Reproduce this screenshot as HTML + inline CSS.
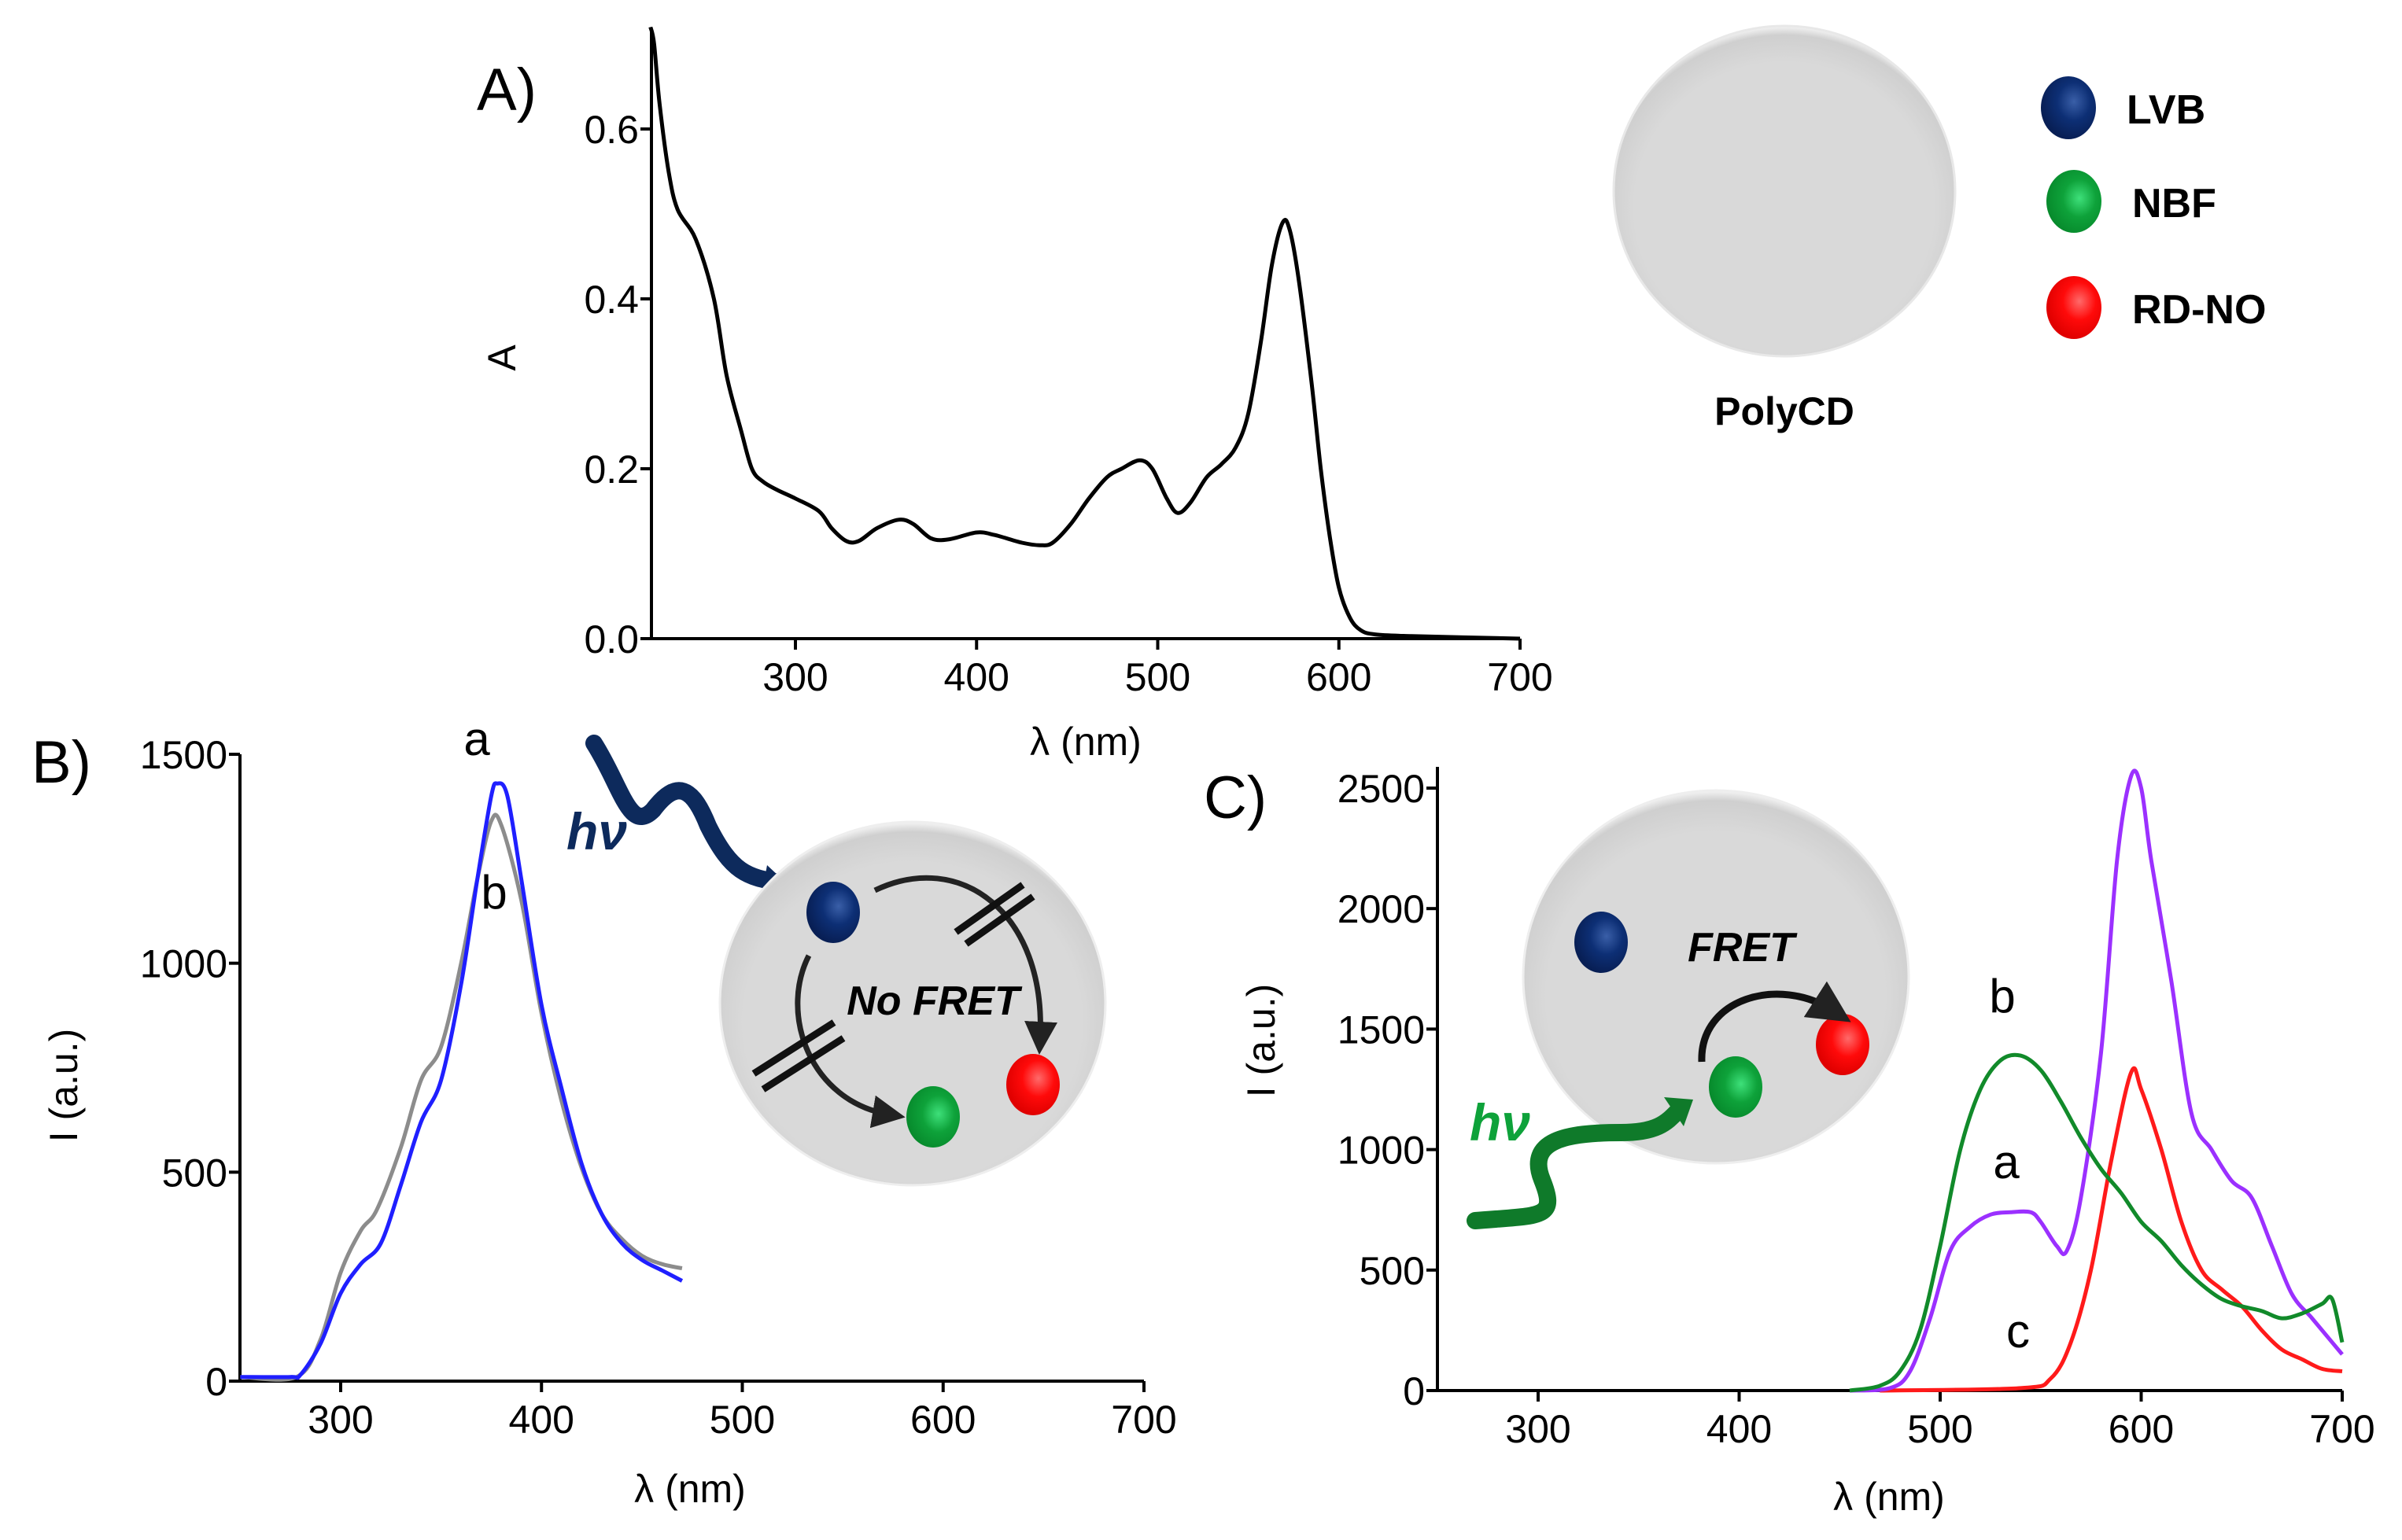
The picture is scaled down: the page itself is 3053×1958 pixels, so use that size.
<!DOCTYPE html>
<html><head><meta charset="utf-8"><style>
html,body{margin:0;padding:0;background:#fff}
svg{display:block}
text{font-family:"Liberation Sans",sans-serif}
</style></head><body>
<svg id="fig" width="3053" height="1958" viewBox="0 0 3053 1958" xmlns="http://www.w3.org/2000/svg">
<defs>
<radialGradient id="gcirc" cx="50%" cy="55%" r="55%"><stop offset="0.8" stop-color="#d9d9d9"/><stop offset="0.95" stop-color="#cfcfcf"/><stop offset="1" stop-color="#f4f4f4"/></radialGradient>
<radialGradient id="gblue" cx="60%" cy="40%" r="60%"><stop offset="0" stop-color="#3a5fa8"/><stop offset="0.5" stop-color="#0d2f75"/><stop offset="1" stop-color="#081f55"/></radialGradient>
<radialGradient id="ggreen" cx="60%" cy="45%" r="60%"><stop offset="0" stop-color="#3ee07a"/><stop offset="0.5" stop-color="#0ea23a"/><stop offset="1" stop-color="#078a2c"/></radialGradient>
<radialGradient id="gred" cx="60%" cy="40%" r="60%"><stop offset="0" stop-color="#ff6a6a"/><stop offset="0.5" stop-color="#ff0a0a"/><stop offset="1" stop-color="#e00000"/></radialGradient>
<marker id="ah" markerWidth="6" markerHeight="6" refX="3" refY="3" orient="auto"><path d="M0,0 L6,3 L0,6 z" fill="#222"/></marker>
</defs>
<g id="layer"></g>

<text x="606" y="140" font-size="76">A)</text>
<ellipse cx="2268" cy="243" rx="217" ry="210" fill="url(#gcirc)" stroke="#e8e8e8" stroke-width="3"/>
<text x="2268" y="540" font-size="50" font-weight="bold" text-anchor="middle">PolyCD</text>
<ellipse cx="2629" cy="137" rx="35" ry="40" fill="url(#gblue)"/>
<text x="2703" y="157" font-size="52" font-weight="bold">LVB</text>
<ellipse cx="2636" cy="256" rx="35" ry="40" fill="url(#ggreen)"/>
<text x="2710" y="276" font-size="52" font-weight="bold">NBF</text>
<ellipse cx="2636" cy="391" rx="35" ry="40" fill="url(#gred)"/>
<text x="2710" y="411" font-size="52" font-weight="bold">RD-NO</text>

<text x="40" y="995" font-size="76">B)</text>
<text x="606" y="960" font-size="60" text-anchor="middle">a</text>
<text x="628" y="1155" font-size="60" text-anchor="middle">b</text>
<path d="M755,945 C790,1000 800,1060 830,1030 C860,990 880,1000 900,1050 C930,1110 950,1115 990,1122" fill="none" stroke="#0d2a5c" stroke-width="22" stroke-linecap="round"/>
<path d="M975,1100 L1005,1128 L968,1138 z" fill="#0d2a5c"/>
<text x="720" y="1080" font-size="66" font-weight="bold" font-style="italic" font-family="Liberation Serif" fill="#0d2a5c">hν</text>
<ellipse cx="1160" cy="1276" rx="245" ry="231" fill="url(#gcirc)" stroke="#eee" stroke-width="3"/>
<ellipse cx="1059" cy="1160" rx="34" ry="39" fill="url(#gblue)"/>
<ellipse cx="1313" cy="1379" rx="34" ry="39" fill="url(#gred)"/>
<ellipse cx="1186" cy="1420" rx="34" ry="39" fill="url(#ggreen)"/>
<path d="M1112,1132 C1220,1080 1330,1160 1322,1320" fill="none" stroke="#222" stroke-width="7" marker-end="url(#ah)"/>
<path d="M1028,1215 C990,1290 1030,1400 1130,1417" fill="none" stroke="#222" stroke-width="7" marker-end="url(#ah)"/>
<path d="M1215,1185 L1300,1125 M1228,1200 L1313,1140" stroke="#111" stroke-width="9"/>
<path d="M958,1365 L1060,1300 M970,1385 L1072,1320" stroke="#111" stroke-width="9"/>
<text x="1186" y="1290" font-size="52" font-weight="bold" font-style="italic" text-anchor="middle">No FRET</text>

<text x="1530" y="1040" font-size="76">C)</text>
<ellipse cx="2181" cy="1242" rx="245" ry="237" fill="url(#gcirc)" stroke="#eee" stroke-width="3"/>
<ellipse cx="2035" cy="1198" rx="34" ry="39" fill="url(#gblue)"/>
<ellipse cx="2206" cy="1382" rx="34" ry="39" fill="url(#ggreen)"/>
<ellipse cx="2342" cy="1328" rx="34" ry="39" fill="url(#gred)"/>
<path d="M2163,1350 C2160,1270 2260,1240 2330,1285" fill="none" stroke="#111" stroke-width="9" marker-end="url(#ah)"/>
<text x="2213" y="1222" font-size="52" font-weight="bold" font-style="italic" text-anchor="middle">FRET</text>
<path d="M1875,1552 C1960,1545 1980,1550 1960,1500 C1940,1450 1990,1440 2060,1440 C2110,1440 2120,1425 2135,1410" fill="none" stroke="#0f7a2a" stroke-width="22" stroke-linecap="round"/>
<path d="M2115,1395 L2152,1398 L2140,1432 z" fill="#0f7a2a"/>
<text x="1868" y="1450" font-size="66" font-weight="bold" font-style="italic" font-family="Liberation Serif" fill="#0ea23a">hν</text>
<text x="2545" y="1287" font-size="60" text-anchor="middle">b</text>
<text x="2550" y="1498" font-size="60" text-anchor="middle">a</text>
<text x="2565" y="1713" font-size="60" text-anchor="middle">c</text>
</svg>
<script>
const aWl = [220,222,225,230,235,245,255,262,270,276,282,290,300,313,320,328,335,345,357,365,375,385,400,410,425,435,442,452,462,472,480,490,497,505,511,518,527,535,543,550,557,563,569,573,578,585,590,595,600,606,612,620,640,700];
const aAbs = [0.72,0.70,0.63,0.55,0.505,0.47,0.40,0.31,0.245,0.20,0.185,0.175,0.165,0.15,0.13,0.115,0.115,0.13,0.14,0.135,0.118,0.117,0.125,0.122,0.113,0.11,0.113,0.135,0.165,0.19,0.20,0.21,0.20,0.165,0.148,0.16,0.19,0.205,0.225,0.265,0.35,0.44,0.49,0.48,0.42,0.30,0.20,0.12,0.06,0.025,0.01,0.005,0.003,0.0];
const aXTicks = [300,400,500,600,700];
const aYTicks = [0.0,0.2,0.4,0.6];
const aYLabels = ["0.0","0.2","0.4","0.6"];
const bWlA = [250,275,280,290,300,310,320,330,340,350,360,368,375,378,383,390,400,410,420,430,440,450,460,470];
const bIntA = [10,10,15,90,210,280,330,470,620,720,950,1200,1400,1430,1400,1200,900,700,520,400,330,290,265,240];
const bWlB = [250,278,290,300,310,318,330,340,350,360,368,375,380,390,400,410,420,430,440,450,460,470];
const bIntB = [10,10,100,260,360,410,560,720,800,1000,1200,1340,1330,1150,880,670,510,400,340,300,280,270];
const bXTicks = [300,400,500,600,700];
const bYTicks = [0,500,1000,1500];
const cWlGreen = [455,470,480,490,500,510,520,530,540,550,560,570,580,590,600,610,620,630,640,650,660,670,680,690,695,700];
const cIntGreen = [0,20,80,250,600,1000,1250,1370,1390,1330,1200,1050,920,820,700,620,520,440,380,350,330,300,320,360,380,200];
const cWlPurple = [455,475,485,495,505,515,525,535,545,550,558,563,570,580,588,595,600,605,615,625,635,645,655,665,675,685,695,700];
const cIntPurple = [0,10,80,300,580,680,730,740,740,700,600,580,800,1400,2200,2550,2500,2200,1700,1150,1000,870,800,600,400,300,200,150];
const cWlRed = [470,540,555,565,575,585,595,600,610,620,630,640,650,660,670,680,690,700];
const cIntRed = [0,10,50,200,500,950,1320,1250,1000,700,500,420,350,250,170,130,90,80];
const cXTicks = [300,400,500,600,700];
const cYTicks = [0,500,1000,1500,2000,2500];

const NS = "http://www.w3.org/2000/svg";
const layer = document.getElementById('layer');
function mk(tag, attrs){const e=document.createElementNS(NS,tag);for(const k in attrs)e.setAttribute(k,attrs[k]);layer.appendChild(e);return e;}
function scale(d0,d1,r0,r1){return v=>r0+(v-d0)*(r1-r0)/(d1-d0);}

function axes(p){
  const ax=mk('path',{d:`M${p.x0},${p.yTop} L${p.x0},${p.y0} L${p.x1},${p.y0}`,fill:'none',stroke:'#000','stroke-width':4});
  
  
  p.xt.forEach(v=>{
    const x=p.sx(v);
    const t=mk('line',{x1:x,y1:p.y0,x2:x,y2:p.y0+14,stroke:'#000','stroke-width':4});
    
    
    const l=mk('text',{x:x,y:p.y0+66,'font-size':50,'text-anchor':'middle'});
    l.textContent=String(v);
    
    
  });
  p.yt.forEach((v,i)=>{
    const y=p.sy(v);
    const t=mk('line',{x1:p.x0-14,y1:y,x2:p.x0,y2:y,stroke:'#000','stroke-width':4});
    
    
    const l=mk('text',{x:p.x0-16,y:y+18,'font-size':50,'text-anchor':'end'});
    l.textContent=p.yl?p.yl[i]:String(v);
    
    
  });
  const xt=mk('text',{x:p.xtx,y:p.xty,'font-size':50,'text-anchor':'middle'});
  xt.textContent='λ (nm)';
  
  
  const yt=mk('text',{x:0,y:0,'font-size':50,'text-anchor':'middle',transform:`translate(${p.ytx},${p.yty}) rotate(-90)`});
  yt.textContent=p.ytitle;
  
  
}
function line(p,xs,ys,color,name){
  const pts=xs.map((v,i)=>[p.sx(v),p.sy(ys[i])]);
  let d='M'+pts[0][0].toFixed(1)+','+pts[0][1].toFixed(1);
  for(let i=0;i<pts.length-1;i++){
    const p0=pts[Math.max(0,i-1)],p1=pts[i],p2=pts[i+1],p3=pts[Math.min(pts.length-1,i+2)];
    const c1=[p1[0]+(p2[0]-p0[0])/6,p1[1]+(p2[1]-p0[1])/6];
    const c2=[p2[0]-(p3[0]-p1[0])/6,p2[1]-(p3[1]-p1[1])/6];
    d+=` C${c1[0].toFixed(1)},${c1[1].toFixed(1)} ${c2[0].toFixed(1)},${c2[1].toFixed(1)} ${p2[0].toFixed(1)},${p2[1].toFixed(1)}`;
  }
  const e=mk('path',{d:d,fill:'none',stroke:color,'stroke-width':5,'stroke-linejoin':'round'});
  
  
}
const pA={id:'panel-a',x0:828,x1:1932,y0:812,yTop:41,sx:scale(300,700,1011,1932),sy:scale(0,0.6,812,164),xt:aXTicks,yt:aYTicks,yl:aYLabels,xtx:1380,xty:960,ytx:655,yty:455,ytitle:'A'};
axes(pA); line(pA,aWl,aAbs,'#000','absorbance-curve');
const pB={id:'panel-b',x0:305,x1:1454,y0:1756,yTop:959,sx:scale(300,700,433,1454),sy:scale(0,1500,1756,959),xt:bXTicks,yt:bYTicks,xtx:877,xty:1910,ytx:98,yty:1380,ytitle:'I (a.u.)'};
axes(pB); line(pB,bWlB,bIntB,'#8c8c8c','emission-curve-b-gray'); line(pB,bWlA,bIntA,'#1f1fff','emission-curve-a-blue');
const pC={id:'panel-c',x0:1827,x1:2977,y0:1768,yTop:975,sx:scale(300,700,1955,2977),sy:scale(0,2500,1768,1002),xt:cXTicks,yt:cYTicks,xtx:2401,xty:1920,ytx:1620,yty:1323,ytitle:'I (a.u.)'};
axes(pC); line(pC,cWlRed,cIntRed,'#ff1a1a','emission-curve-c-red'); line(pC,cWlPurple,cIntPurple,'#9b30ff','emission-curve-a-purple'); line(pC,cWlGreen,cIntGreen,'#118a2a','emission-curve-b-green');
</script>
</body></html>
